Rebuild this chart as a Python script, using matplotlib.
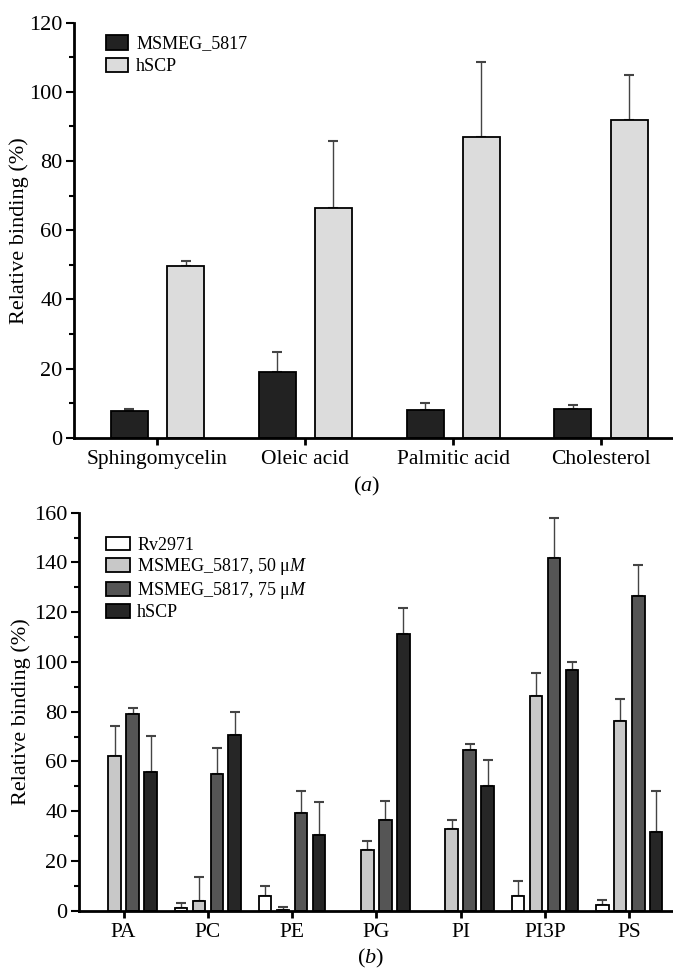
import matplotlib
matplotlib.use("Agg")
import matplotlib.pyplot as plt
from matplotlib.ticker import MultipleLocator
import numpy as np

plt.rcParams['font.family'] = ['Liberation Serif', 'DejaVu Serif']
plt.rcParams['mathtext.fontset'] = 'custom'
plt.rcParams['mathtext.rm'] = 'Liberation Serif'
plt.rcParams['mathtext.it'] = 'Liberation Serif:italic'

# panel (a)
lipids = ["Sphingomycelin", "Oleic acid", "Palmitic acid", "Cholesterol"]
msmeg_a = [7.8, 19.0, 8.0, 8.2]
msmeg_a_err = [0.5, 5.8, 2.1, 1.4]
hscp_a = [49.6, 66.5, 87.0, 92.0]
hscp_a_err = [1.4, 19.2, 21.6, 12.8]

# panel (b)
phospho = ["PA", "PC", "PE", "PG", "PI", "PI3P", "PS"]
rv2971 = [np.nan, 1.0, 5.9, np.nan, np.nan, 6.0, 2.3]
rv2971_err = [np.nan, 2.0, 4.0, np.nan, np.nan, 5.8, 2.0]
ms50 = [62.3, 4.0, 0.3, 24.3, 32.7, 86.5, 76.3]
ms50_err = [12.0, 9.4, 1.3, 3.7, 3.8, 9.1, 8.7]
ms75 = [79.0, 55.0, 39.4, 36.6, 64.6, 141.6, 126.5]
ms75_err = [2.4, 10.5, 8.7, 7.5, 2.3, 16.4, 12.5]
hscp_b = [55.9, 70.6, 30.3, 111.3, 50.1, 96.8, 31.5]
hscp_b_err = [14.5, 9.2, 13.3, 10.4, 10.4, 3.3, 16.8]

W, H = 673, 968
fig = plt.figure(figsize=(W / 100, H / 100), dpi=100)


def style_axes(ax, ymax):
    for s in ["top", "right"]:
        ax.spines[s].set_visible(False)
    ax.spines["left"].set_linewidth(2)
    ax.spines["bottom"].set_linewidth(2)
    ax.set_ylim(0, ymax)
    ax.yaxis.set_major_locator(MultipleLocator(20))
    ax.yaxis.set_minor_locator(MultipleLocator(10))
    ax.tick_params(axis="y", which="major", length=6, width=1.5, labelsize=16, pad=2)
    ax.tick_params(axis="y", which="minor", length=3.5, width=1.5)
    ax.tick_params(axis="x", which="major", length=5, width=2, labelsize=15.5, pad=4)
    ax.set_ylabel("Relative binding (%)", fontsize=16)


def bars(ax, x, vals, errs, color, w):
    b = ax.bar(x, vals, w, color=color, edgecolor="black", linewidth=1.3, zorder=2)
    ax.errorbar(x, vals, yerr=[np.zeros(len(vals)), errs], fmt="none",
                ecolor="#444444", elinewidth=1, capsize=3.5, capthick=1.5, zorder=1)
    return b


# ---- (a)
ax1 = fig.add_axes([73.8 / W, 1 - 437.7 / H, 1 - 73.8 / W, 415 / H])
xa = np.arange(len(lipids))
h1 = bars(ax1, xa - 0.19, msmeg_a, msmeg_a_err, "#222222", 0.25)
h2 = bars(ax1, xa + 0.19, hscp_a, hscp_a_err, "#dcdcdc", 0.25)
style_axes(ax1, 120)
ax1.set_xlim(-0.566, 3.487)
ax1.set_xticks(xa)
ax1.set_xticklabels(lipids)
ax1.yaxis.set_label_coords(-0.075, 0.5)
ax1.legend([h1, h2], ["MSMEG_5817", "hSCP"], loc="upper left", bbox_to_anchor=(0.053, 0.97),
           frameon=False, fontsize=13, handlelength=1.25, handleheight=0.85,
           labelspacing=0.3, handletextpad=0.45, borderpad=0, borderaxespad=0)
fig.text(367 / W, 1 - 486 / H, r"($\it{a}$)", ha="center", va="center", fontsize=16)

# ---- (b)
ax2 = fig.add_axes([78.5 / W, 1 - 910.7 / H, 1 - 78.5 / W, 398 / H])
xb = np.arange(len(phospho))
bw = 0.15
g1 = bars(ax2, xb - 0.32, rv2971, rv2971_err, "white", bw)
g2 = bars(ax2, xb - 0.107, ms50, ms50_err, "#c8c8c8", bw)
g3 = bars(ax2, xb + 0.107, ms75, ms75_err, "#555555", bw)
g4 = bars(ax2, xb + 0.32, hscp_b, hscp_b_err, "#262626", bw)
style_axes(ax2, 160)
ax2.set_xlim(-0.535, 6.52)
ax2.set_xticks(xb)
ax2.set_xticklabels(phospho)
ax2.yaxis.set_label_coords(-0.08, 0.5)
ax2.legend([g1, g2, g3, g4],
           ["Rv2971", r"MSMEG_5817, 50 μ$\it{M}$", r"MSMEG_5817, 75 μ$\it{M}$", "hSCP"],
           loc="upper left", bbox_to_anchor=(0.047, 0.94),
           frameon=False, fontsize=13, handlelength=1.3, handleheight=0.8,
           labelspacing=0.15, handletextpad=0.4, borderpad=0, borderaxespad=0)
fig.text(371 / W, 1 - 958 / H, r"($\it{b}$)", ha="center", va="center", fontsize=16)

fig.savefig("out.png", dpi=100)
